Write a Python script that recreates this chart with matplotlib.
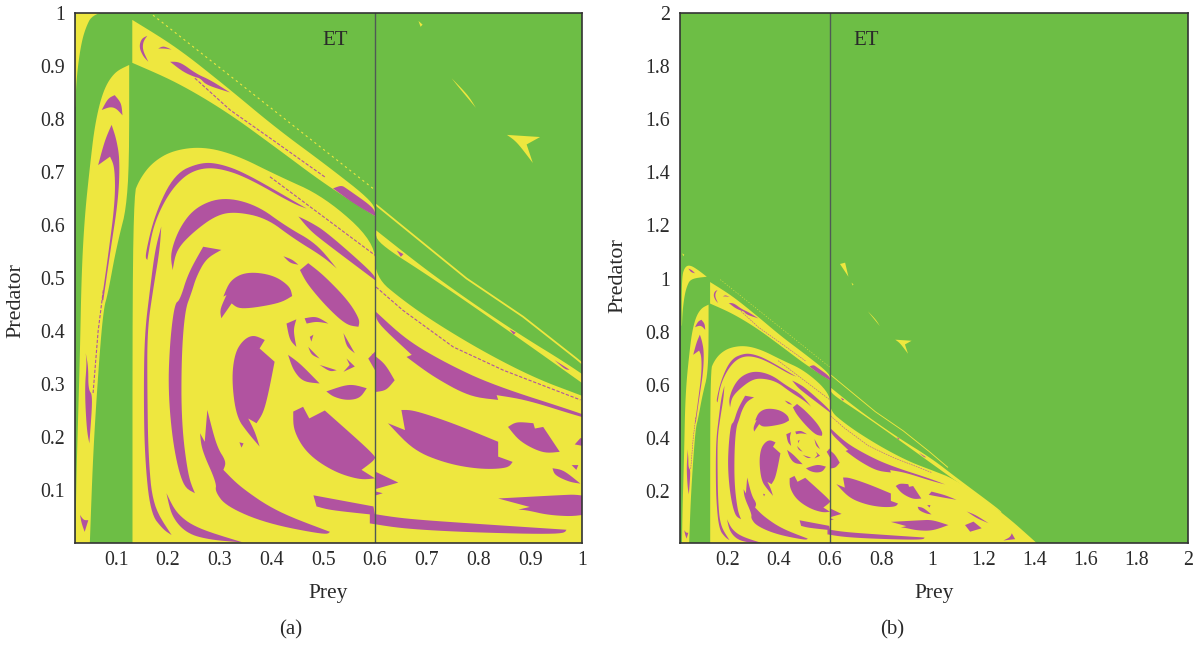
import math
import matplotlib
matplotlib.use("Agg")
import matplotlib.pyplot as plt

plt.rcParams['font.family'] = ['Liberation Serif', 'DejaVu Serif']

GREEN = '#6DBE45'
YELLOW = '#EEE73F'
PURPLE = '#B153A0'
INK = '#2A2A2A'

# Basin regions in (prey, predator) values, shared by both panels
yellow_regions = [
    ([.020, .020, .033, .053, .085, .118, .055, .039, .030, .023, .021],
     [.823, 1.007, 1.045, 1.051, 1.032, 1.007, 1.000, .968, .930, .874, .823]),
    ([.125, .097, .075, .059, .049, .039, .033, .030, .026, .023, .021, .049, .055, .065, .075, .084, .1005, .125],
     [.902, .889, .855, .792, .710, .616, .509, .364, .226, .125, .000, .000, .163, .320, .440, .471, .559, .653]),
    ([.131, .216, .313, .410, .506, .600, .600, .506, .410, .313, .216, .131],
     [.987, .936, .861, .782, .713, .641, .617, .675, .745, .814, .870, .906]),
    ([.1314, .1314, .146, .171, .210, .268, .332, .410, .503, .600, .600, .654, .719, .815, .912, .997, 1.095, 1.278, 1.402, 1.412],
     [.000, .653, .688, .719, .741, .748, .732, .694, .653, .568, .502, .458, .414, .358, .310, .279, .242, .116, .010, .000]),
    ([.602, .712, .860, .997, 1.095, 1.27, 1.27, 1.095, .997, .860, .712, .602],
     [.590, .505, .405, .323, .250, .125, .118, .236, .304, .399, .499, .568]),
    ([.748, .760, .795, .780], [.877, .862, .821, .845]),
    ([.855, .919, .893, .905, .874], [.770, .766, .752, .717, .757]),
    ([.684, .692, .688], [.985, .978, .974]),
    ([.639, .659, .672], [1.055, 1.060, 1.007]),
    ([.022, .030, .026], [1.095, 1.090, 1.084]),
]

purple_regions = [
    ([.160, .149, .144, .152, .162, .151, .152], [.957, .952, .936, .918, .908, .930, .946]),
    ([.181, .191, .207, .194], [.933, .938, .931, .933]),
    ([.204, .223, .255, .281, .320, .274, .262, .252, .229], [.908, .908, .885, .874, .850, .864, .877, .879, .889]),
    ([.519, .535, .545, .600, .600, .558], [.669, .675, .669, .631, .617, .641]),
    ([.072, .084, .097, .110, .112, .100, .088], [.817, .839, .845, .830, .807, .820, .823]),
    ([.091, .100, .107, .104, .088, .075, .072, .085, .098, .097, .088, .065, .078],
     [.789, .763, .723, .647, .547, .458, .458, .547, .647, .710, .729, .713, .760]),
    ([.041, .046, .046, .055, .048, .043, .039, .043], [.358, .333, .289, .279, .188, .213, .289, .339]),
    ([.030, .037, .046, .039, .033], [.053, .043, .043, .021, .037]),
    ([.155, .175, .213, .262, .300, .352, .468, .442, .352, .300, .262, .229, .197, .171, .160],
     [.540, .622, .697, .718, .716, .697, .631, .640, .690, .707, .707, .691, .653, .597, .534]),
    ([.187, .184, .171, .160, .160, .162, .171, .207, .191, .166, .155, .153, .155, .165, .175],
     [.597, .553, .477, .402, .289, .163, .069, .015, .025, .056, .163, .289, .396, .477, .553]),
    ([.204, .223, .255, .307, .371, .429, .487, .526, .500, .442, .390, .332, .294, .249, .216, .209],
     [.546, .597, .635, .653, .638, .597, .565, .518, .540, .575, .613, .625, .619, .587, .553, .515]),
    ([.452, .474, .506, .600, .600, .506, .474], [.616, .606, .587, .506, .496, .565, .590]),
    ([.455, .471, .500, .548, .571, .568, .545, .506, .468], [.515, .528, .506, .458, .421, .408, .411, .446, .490]),
    ([.423, .440, .452, .436], [.541, .535, .525, .528]),
    ([.268, .303, .274, .255, .245, .233, .226, .226, .239, .252, .229, .210, .200, .204, .213, .223, .239],
     [.559, .553, .537, .503, .471, .440, .352, .226, .125, .094, .106, .182, .289, .383, .452, .458, .509]),
    ([.307, .320, .352, .403, .436, .440, .416, .339, .323, .303, .300, .313],
     [.465, .496, .512, .506, .484, .466, .452, .440, .452, .424, .440, .468]),
    ([.345, .365, .387, .377, .406, .394, .384, .371, .355, .368, .377, .355, .332, .323, .329],
     [.383, .393, .383, .367, .342, .282, .245, .226, .235, .210, .182, .207, .238, .308, .358]),
    ([.338, .346, .342], [.190, .188, .180]),
    ([.276, .294, .313, .307, .339, .410, .513, .506, .390, .313, .291, .294, .265, .262, .271],
     [.251, .182, .153, .138, .106, .059, .021, .015, .037, .069, .097, .113, .176, .207, .191]),
    ([.197, .216, .255, .345, .281, .236, .207], [.094, .056, .028, .001, .006, .018, .050]),
    ([.481, .597, .600, .513, .487], [.090, .069, .053, .062, .069]),
    ([.590, .654, .783, .970, .964, .783, .654, .590], [.056, .046, .037, .025, .016, .020, .027, .037]),
    ([.442, .461, .473, .503, .600, .600, .574, .600, .571, .519, .468, .442],
     [.248, .257, .235, .250, .166, .157, .138, .122, .119, .135, .169, .213]),
    ([.602, .645, .602], [.134, .114, .102]),
    ([.602, .615, .602], [.097, .094, .090]),
    ([.429, .448, .442, .448, .435], [.414, .422, .402, .370, .383]),
    ([.464, .487, .510, .487, .468], [.424, .428, .414, .418, .414]),
    ([.539, .561, .545], [.396, .358, .370]),
    ([.545, .561, .539, .551], [.348, .333, .323, .336]),
    ([.432, .455, .493, .461, .442], [.355, .339, .301, .304, .326]),
    ([.493, .526, .513], [.336, .326, .323]),
    ([.471, .493, .477], [.370, .348, .355]),
    ([.474, .481, .477], [.389, .393, .380]),
    ([.506, .551, .584, .571, .545, .519], [.286, .301, .292, .273, .269, .276]),
    ([.587, .600, .600], [.348, .361, .326]),
    ([.593, .619, .638, .622, .602, .602], [.358, .339, .307, .288, .285, .345]),
    ([.602, .661, .738, .828, .997, 1.05, .997, .893, .835, .838, .783, .712, .661, .671, .602],
     [.436, .383, .339, .298, .245, .225, .238, .270, .279, .270, .276, .314, .351, .355, .417]),
    ([.642, .655, .650], [.552, .545, .540]),
    ([.860, .872, .868], [.403, .397, .393]),
    ([.947, .976, .968], [.345, .327, .327]),
    ([.651, .674, .751, .838, .838, .866, .857, .803, .738, .674, .625, .658],
     [.251, .251, .226, .191, .163, .153, .141, .139, .150, .175, .226, .213]),
    ([.857, .873, .906, .909, .925, .957, .925, .880], [.219, .229, .226, .216, .219, .172, .169, .191]),
    ([.943, .964, .997, .976, .947], [.141, .138, .112, .115, .128]),
    ([.980, .993, .989], [.147, .147, .138]),
    ([.838, .951, 1.000, 1.063, 1.000, .938, .893, .877, .899], [.084, .090, .092, .072, .050, .052, .062, .063, .068]),
    ([.997, 1.050, 1.095, 1.040, .986], [.198, .185, .167, .176, .186]),
    ([1.135, 1.170, 1.220, 1.175], [.123, .110, .079, .097]),
    ([1.128, 1.161, 1.193, 1.148], [.072, .085, .060, .047]),
    ([1.311, 1.324, 1.278, 1.304], [.041, .019, .014, .026]),
    ([.046, .060, .072, .056], [1.038, 1.032, 1.020, 1.024]),
]

thin_yellow_x = [.602, .777, .886, .989, 1.060]
thin_yellow_y = [.638, .499, .427, .348, .290]
dotted_yellow_x = [.171, .600]
dotted_yellow_y = [.996, .666]
thin_purple = [
    ([.252, .320, .403, .504], [.877, .817, .760, .690]),
    ([.397, .600], [.691, .543]),
    ([.075, .065, .055], [.477, .400, .280]),
    ([.602, .654, .751, .848, .997], [.483, .439, .370, .326, .270]),
]

x_ticks_a = [.1, .2, .3, .4, .5, .6, .7, .8, .9, 1]
x_labels_a = ['0.1', '0.2', '0.3', '0.4', '0.5', '0.6', '0.7', '0.8', '0.9', '1']
y_ticks_a = [.1, .2, .3, .4, .5, .6, .7, .8, .9, 1]
y_labels_a = x_labels_a
x_ticks_b = [.2, .4, .6, .8, 1, 1.2, 1.4, 1.6, 1.8, 2]
x_labels_b = ['0.2', '0.4', '0.6', '0.8', '1', '1.2', '1.4', '1.6', '1.8', '2']
y_ticks_b = x_ticks_b
y_labels_b = x_labels_b

W, H = 1197, 646
fig = plt.figure(figsize=(W / 100, H / 100), dpi=100)


def rounded(xs, ys, passes=3, sharp_deg=58):
    """Round a region's outline by corner cutting, keeping its sharp corners."""
    pts = list(zip(xs, ys))
    for _ in range(passes):
        out = []
        n = len(pts)
        for i, p in enumerate(pts):
            a, b = pts[i - 1], pts[(i + 1) % n]
            turn = math.atan2(b[1] - p[1], b[0] - p[0]) - math.atan2(p[1] - a[1], p[0] - a[0])
            turn = abs((turn + math.pi) % (2 * math.pi) - math.pi)
            if math.degrees(turn) > sharp_deg:
                out.append(p)
            else:
                out.append((p[0] + .25 * (a[0] - p[0]), p[1] + .25 * (a[1] - p[1])))
                out.append((p[0] + .25 * (b[0] - p[0]), p[1] + .25 * (b[1] - p[1])))
        pts = out
    return [p[0] for p in pts], [p[1] for p in pts]


def panel(box, xlim, ylim, xt, xl, yt, yl, et_xy, scale, ylab):
    ax = fig.add_axes([box[0] / W, 1 - box[3] / H, (box[2] - box[0]) / W, (box[3] - box[1]) / H])
    ax.set_facecolor(GREEN)
    for xs, ys in yellow_regions:
        ax.fill(*rounded(xs, ys), color=YELLOW, lw=0)
    for xs, ys in purple_regions:
        ax.fill(*rounded(xs, ys), color=PURPLE, lw=0)
    ax.plot(thin_yellow_x, thin_yellow_y, color=YELLOW, lw=1.3 * scale)
    ax.plot(dotted_yellow_x, dotted_yellow_y, color=YELLOW, lw=0.8 * scale, ls=(0, (2, 3)))
    for xs, ys in thin_purple:
        ax.plot(xs, ys, color=PURPLE, lw=0.8 * scale, ls=(0, (3, 1.5)))
    ax.axvline(0.6, color='#4F5A55', lw=1.0)
    ax.text(et_xy[0], et_xy[1], 'ET', fontsize=15, color=INK, ha='center', va='center')
    ax.set_xlim(*xlim)
    ax.set_ylim(*ylim)
    ax.set_xticks(xt, xl)
    ax.set_yticks(yt, yl)
    ax.tick_params(length=0, labelsize=14.3, colors=INK)
    ax.tick_params(axis='x', pad=6)
    ax.tick_params(axis='y', pad=7)
    ax.set_xlabel('Prey', fontsize=15.5, color=INK)
    ax.set_ylabel('Predator', fontsize=15.9, color=INK)
    ax.xaxis.set_label_coords(0.5, -0.078)
    ax.yaxis.set_label_coords(ylab[0], ylab[1])
    for s in ax.spines.values():
        s.set_color('#333333')
        s.set_linewidth(1.2)
    return ax


panel((75, 13, 582, 543), (.0203, 1), (0, 1), x_ticks_a, x_labels_a, y_ticks_a, y_labels_a,
      (.522, .949), 1.0, (-0.0986, 0.457))
panel((680, 13, 1188, 543), (.0133, 2), (.0045, 2), x_ticks_b, x_labels_b, y_ticks_b, y_labels_b,
      (.741, 1.898), 0.5, (-0.104, 0.504))

fig.text(291 / W, 1 - 630 / H, '(a)', fontsize=15, ha='center', va='center', color=INK)
fig.text(892 / W, 1 - 630 / H, '(b)', fontsize=15, ha='center', va='center', color=INK)

fig.savefig('out.png', dpi=100)
